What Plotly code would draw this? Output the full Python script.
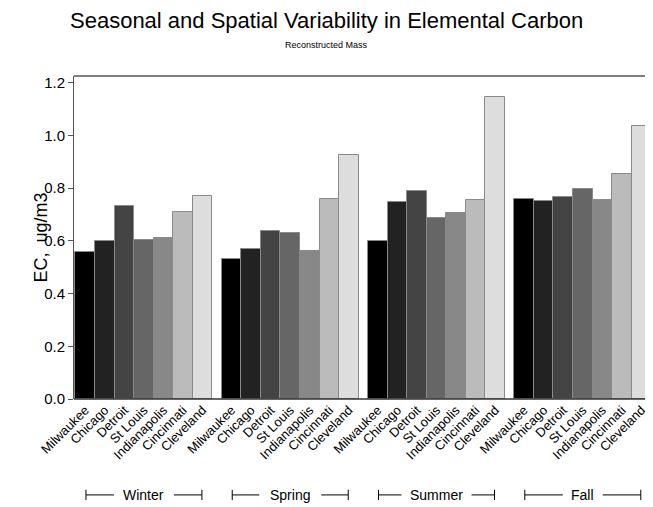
import plotly.graph_objects as go

seasons = ["Winter", "Spring", "Summer", "Fall"]
cities = ["Milwaukee", "Chicago", "Detroit", "St Louis", "Indianapolis", "Cincinnati", "Cleveland"]

ec_winter = [0.556, 0.600, 0.733, 0.604, 0.612, 0.710, 0.771]
ec_spring = [0.530, 0.570, 0.636, 0.629, 0.562, 0.758, 0.925]
ec_summer = [0.600, 0.748, 0.790, 0.687, 0.704, 0.756, 1.144]
ec_fall = [0.758, 0.751, 0.767, 0.797, 0.753, 0.855, 1.034]

y_ticks = [0.0, 0.2, 0.4, 0.6, 0.8, 1.0, 1.2]

greys = ["#000000", "#222222", "#444444", "#666666", "#888888", "#bbbbbb", "#dddddd"]
font = "Liberation Sans, Arial, sans-serif"
gap = 0.48  # space between season groups, in bar widths

all_vals = [ec_winter, ec_spring, ec_summer, ec_fall]

xs, ys, cols, labels = [], [], [], []
for g, vals in enumerate(all_vals):
    for i, v in enumerate(vals):
        xs.append(g * (7 + gap) + i)
        ys.append(v)
        cols.append(greys[i])
        labels.append(cities[i])

fig = go.Figure(go.Bar(
    x=xs, y=ys, width=1.0,
    marker=dict(color=cols, line=dict(color="#8a8a8a", width=1)),
    showlegend=False,
))

# season brackets under the city labels
px_unit = 19.56
text_half = {"Winter": 27, "Spring": 28, "Summer": 32, "Fall": 17}
yb = -0.297
for g, s in enumerate(seasons):
    c = g * (7 + gap) + 3
    outer = 58 / px_unit
    inner = (text_half[s] + 3) / px_unit
    for a, b in [(c - outer, c - inner), (c + inner, c + outer)]:
        fig.add_shape(type="line", xref="x", yref="paper", x0=a, x1=b, y0=yb, y1=yb,
                      line=dict(color="black", width=1))
    for e in (c - outer, c + outer):
        fig.add_shape(type="line", xref="x", yref="paper", x0=e, x1=e, y0=yb - 0.016, y1=yb + 0.016,
                      line=dict(color="black", width=1))
    fig.add_annotation(x=c, y=yb, xref="x", yref="paper", text=s, showarrow=False,
                       xanchor="center", yanchor="middle",
                       font=dict(size=14, color="black", family=font))

# titles
fig.add_annotation(x=0.443, y=1.172, xref="paper", yref="paper", showarrow=False,
                   xanchor="center", yanchor="middle",
                   text="Seasonal and Spatial Variability in Elemental Carbon",
                   font=dict(size=22, color="black", family=font))
fig.add_annotation(x=0.443, y=1.095, xref="paper", yref="paper", showarrow=False,
                   xanchor="center", yanchor="middle",
                   text="Reconstructed Mass", font=dict(size=9, color="black", family=font))
fig.add_annotation(x=-0.0595, y=0.5, xref="paper", yref="paper", showarrow=False,
                   xanchor="center", yanchor="middle",
                   text="EC,  ug/m3", textangle=-90,
                   font=dict(size=18, color="black", family=font))

# the page body has an 8px margin, and the visible width ends near 645px
fig.update_layout(
    width=637, height=499,
    margin=dict(l=66, r=0, t=68, b=108),
    paper_bgcolor="white", plot_bgcolor="white",
    font=dict(family=font, color="black"),
    bargap=0,
    xaxis=dict(
        range=[-0.576, 28.62], automargin=False,
        tickmode="array", tickvals=xs, ticktext=labels,
        tickangle=-45, tickfont=dict(size=13, color="black"),
        ticklabeloverflow="allow",
        showgrid=False, zeroline=False, showline=False, ticks="",
    ),
    yaxis=dict(
        range=[0, 1.225], automargin=False,
        tickmode="array", tickvals=y_ticks, ticktext=[f"{v:.1f}" for v in y_ticks],
        tickfont=dict(size=15, color="black"),
        ticks="outside", ticklen=5, tickcolor="#555555",
        showline=True, linecolor="#555555", linewidth=1,
        showgrid=False, zeroline=False,
    ),
)

# frame top line and baseline
fig.add_shape(type="line", xref="paper", yref="paper", x0=0, x1=1, y0=1, y1=1,
              line=dict(color="#555555", width=1.5))
fig.add_shape(type="line", xref="paper", yref="paper", x0=0, x1=1, y0=0, y1=0,
              line=dict(color="#333333", width=1.5))

fig.write_html("out.html")
